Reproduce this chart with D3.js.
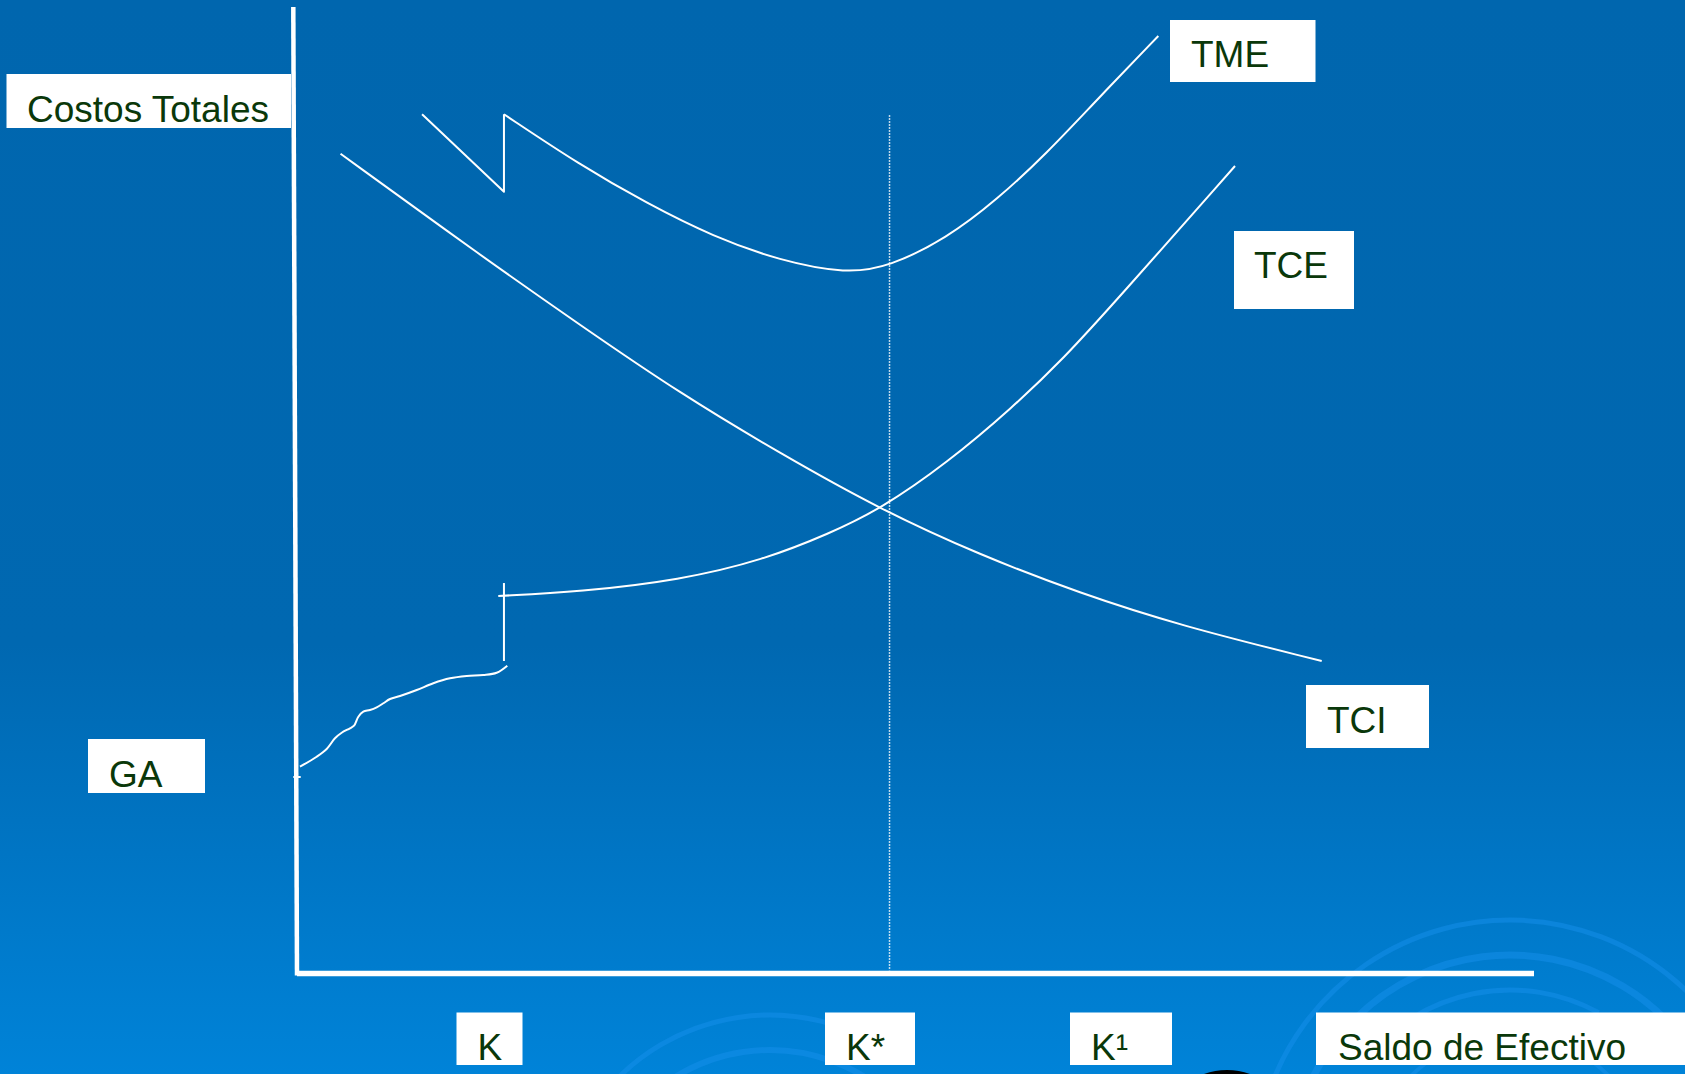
<!DOCTYPE html>
<html>
<head>
<meta charset="utf-8">
<script src="https://cdn.jsdelivr.net/npm/d3@7"></script>
<style>
body { margin: 0; overflow: hidden; background: #0067af; }
text { font-family: "Liberation Sans", Arial, sans-serif; }
</style>
</head>
<body>
<div id="chart"></div>
<script>
// x = saldo de efectivo, y = costos, both on a 0..100 scale
var tci = [[3.52, 84.82], [14.79, 74.34], [22.88, 67.10], [30.96, 60.03], [39.05, 53.82],
	[47.13, 48.03], [55.21, 43.30], [63.30, 39.34], [71.38, 36.00], [82.84, 32.33]];

var tmeJump = [[10.11, 88.90], [16.73, 80.89], [16.73, 88.90]];
var tme = [[16.73, 88.90], [22.88, 83.65], [28.27, 79.69], [33.65, 76.23], [39.05, 73.75],
	[44.44, 72.40], [47.88, 73.13], [52.52, 76.07], [56.56, 80.03], [60.61, 84.86],
	[64.65, 90.38], [69.63, 97.00]];

var tceTick = [[16.73, 40.40], [16.73, 32.33]];
var tce = [[16.27, 39.06], [22.88, 39.50], [30.96, 40.71], [37.70, 42.78], [43.09, 45.55],
	[47.13, 48.03], [52.52, 52.79], [57.91, 58.64], [61.95, 63.60], [66.27, 69.68], [75.83, 83.55]];

var gaTick = [[-0.3, 20.33], [0.3, 20.33]];
var ga = [[0.24, 21.40], [1.59, 22.43], [2.40, 23.23], [3.07, 24.34], [3.61, 24.91],
	[4.28, 25.37], [4.61, 25.64], [4.96, 26.57], [5.36, 27.09], [5.90, 27.26], [6.44, 27.54],
	[6.98, 27.96], [7.52, 28.40], [8.33, 28.71], [9.68, 29.33], [11.02, 30.03], [12.37, 30.54],
	[13.72, 30.78], [15.06, 30.88], [16.14, 31.12], [17.00, 31.85]];

var kStar = 47.9;

const W = 1685, H = 1074;

const x = d3.scaleLinear().domain([0, 100]).range([297, 1534]);
const y = d3.scaleLinear().domain([0, 100]).range([973.5, 7]);

const svg = d3.select("#chart").append("svg")
	.attr("width", W)
	.attr("height", H);

// background
const defs = svg.append("defs");
const grad = defs.append("linearGradient")
	.attr("id", "bg")
	.attr("x1", 0).attr("y1", 0).attr("x2", 0).attr("y2", 1);
grad.append("stop").attr("offset", "0").attr("stop-color", "#0066ae");
grad.append("stop").attr("offset", "0.6").attr("stop-color", "#0068b1");
grad.append("stop").attr("offset", "1").attr("stop-color", "#0083d8");

svg.append("rect")
	.attr("width", W)
	.attr("height", H)
	.attr("fill", "url(#bg)");

// faint swirl decoration, bottom of slide
const swirl = svg.append("g")
	.attr("fill", "none")
	.attr("stroke", "#1690ec")
	.attr("stroke-opacity", 0.5);

const arcs = [
	{ cx: 1510, cy: 1175, r: 255, a0: -1.25, a1: 1.35, w: 5 },
	{ cx: 1510, cy: 1175, r: 220, a0: -1.45, a1: 1.2, w: 7 },
	{ cx: 1510, cy: 1175, r: 185, a0: -0.9, a1: 0.5, w: 5 },
	{ cx: 1510, cy: 1175, r: 140, a0: -1.2, a1: 0.9, w: 4 },
	{ cx: 770, cy: 1230, r: 215, a0: -0.9, a1: 0.6, w: 5 },
	{ cx: 770, cy: 1230, r: 180, a0: -1.1, a1: 0.8, w: 6 }
];
arcs.forEach(a => {
	swirl.append("path")
		.attr("transform", "translate(" + a.cx + "," + a.cy + ")")
		.attr("stroke-width", a.w)
		.attr("d", d3.arc()({ innerRadius: a.r, outerRadius: a.r, startAngle: a.a0, endAngle: a.a1 }));
});

svg.append("ellipse")
	.attr("cx", 1227).attr("cy", 1122)
	.attr("rx", 60).attr("ry", 52)
	.attr("fill", "#000");

// axes
svg.append("line")
	.attr("x1", x(-0.3)).attr("y1", y(100))
	.attr("x2", x(0)).attr("y2", y(-0.2))
	.attr("stroke", "#fff")
	.attr("stroke-width", 4.5);

svg.append("line")
	.attr("x1", x(0)).attr("y1", y(0))
	.attr("x2", x(100)).attr("y2", y(0))
	.attr("stroke", "#fff")
	.attr("stroke-width", 5.5);

// K* reference
svg.append("line")
	.attr("x1", x(kStar)).attr("y1", y(88.8))
	.attr("x2", x(kStar)).attr("y2", y(0.3))
	.attr("stroke", "#fff")
	.attr("stroke-width", 1.5)
	.attr("stroke-dasharray", "1.5,1.5");

// curves
const smooth = d3.line()
	.x(d => x(d[0]))
	.y(d => y(d[1]))
	.curve(d3.curveBasis);

const wavy = d3.line()
	.x(d => x(d[0]))
	.y(d => y(d[1]))
	.curve(d3.curveCatmullRom.alpha(0.5));

const straight = d3.line()
	.x(d => x(d[0]))
	.y(d => y(d[1]));

const curves = svg.append("g")
	.attr("fill", "none")
	.attr("stroke", "#fff")
	.attr("stroke-width", 2)
	.attr("stroke-linejoin", "round");

curves.append("path").attr("d", smooth(tci));
curves.append("path").attr("d", straight(tmeJump));
curves.append("path").attr("d", smooth(tme));
curves.append("path").attr("d", straight(tceTick));
curves.append("path").attr("d", smooth(tce));
curves.append("path").attr("d", straight(gaTick));
curves.append("path").attr("d", wavy(ga));

// white label boxes
const labels = [
	{ text: "Costos Totales", x0: 6.5, y0: 74, x1: 291, y1: 128, tx: 27, ty: 122 },
	{ text: "TME", x0: 1170, y0: 20, x1: 1315.5, y1: 82, tx: 1191, ty: 67 },
	{ text: "TCE", x0: 1234, y0: 231, x1: 1354, y1: 309, tx: 1254, ty: 278 },
	{ text: "TCI", x0: 1306, y0: 685, x1: 1429, y1: 748, tx: 1327, ty: 733 },
	{ text: "GA", x0: 88, y0: 739, x1: 205, y1: 793, tx: 109, ty: 787 },
	{ text: "K", x0: 456.5, y0: 1012.5, x1: 522.5, y1: 1065, tx: 477.5, ty: 1060 },
	{ text: "K*", x0: 825, y0: 1012.5, x1: 915, y1: 1065, tx: 846, ty: 1060 },
	{ text: "K¹", x0: 1070, y0: 1012.5, x1: 1172, y1: 1065, tx: 1091, ty: 1060 },
	{ text: "Saldo de Efectivo", x0: 1316, y0: 1012.5, x1: 1700, y1: 1065, tx: 1338, ty: 1060 }
];

const lab = svg.selectAll(".lab")
	.data(labels)
	.enter().append("g")
	.attr("class", "lab");

lab.append("rect")
	.attr("x", d => d.x0)
	.attr("y", d => d.y0)
	.attr("width", d => d.x1 - d.x0)
	.attr("height", d => d.y1 - d.y0)
	.attr("fill", "#fff");

lab.append("text")
	.attr("x", d => d.tx)
	.attr("y", d => d.ty)
	.attr("fill", "#0a380a")
	.style("font-size", "37px")
	.text(d => d.text);
</script>
</body>
</html>
